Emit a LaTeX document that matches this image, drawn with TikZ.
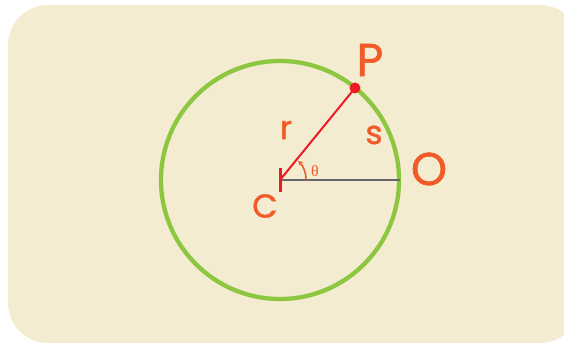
\documentclass[tikz,border=0pt]{standalone}
\usepackage{fontspec}
\setmainfont{Poppins}[FakeBold=1.2]
\newfontfamily\thetafont{Liberation Serif}
\usetikzlibrary{arrows.meta}
\definecolor{bg}{HTML}{F4ECD1}
\definecolor{grn}{HTML}{8DC63F}
\definecolor{rd}{HTML}{ED1C24}
\definecolor{org}{HTML}{F15A29}
\definecolor{gry}{HTML}{666666}
\tikzset{
  lbl/.style={text=org, inner sep=0pt, font=\fontsize{33}{33}\selectfont},
  biglbl/.style={text=org, inner sep=0pt, font=\fontsize{46}{46}\selectfont},
}
\begin{document}
\begin{tikzpicture}[x=1pt,y=1pt]
\useasboundingbox (0,0) rectangle (564,345);
\fill[bg, rounded corners=40pt] (8,2) rectangle (580,340);
\coordinate (C) at (280,165);
\coordinate (O) at (400,165);
\coordinate (P) at (355,257);
\draw[grn, line width=4.3pt] (C) circle (119);
\draw[gry, line width=1.5pt] (C) -- (O);
\draw[rd, line width=2pt] (C) -- (P);
\fill[rd] (P) circle (5.5);
\draw[rd, line width=3pt] (280,153) -- (280,177);
\draw[org, line width=1.6pt, -{Stealth[length=5pt,width=5pt]}] (306,165.5) arc (0:46:26);
\node[text=org, inner sep=0pt, font=\fontsize{16}{16}\thetafont] (th) at (315,174) {θ};
\node[biglbl] (Pl) at (370,285) {P};
\node[biglbl] (Ol) at (429,176) {O};
\node[lbl] (Cl) at (265,139) {C};
\node[lbl] (rl) at (286,215) {r};
\node[lbl] (sl) at (374,210) {s};
\end{tikzpicture}
\end{document}
